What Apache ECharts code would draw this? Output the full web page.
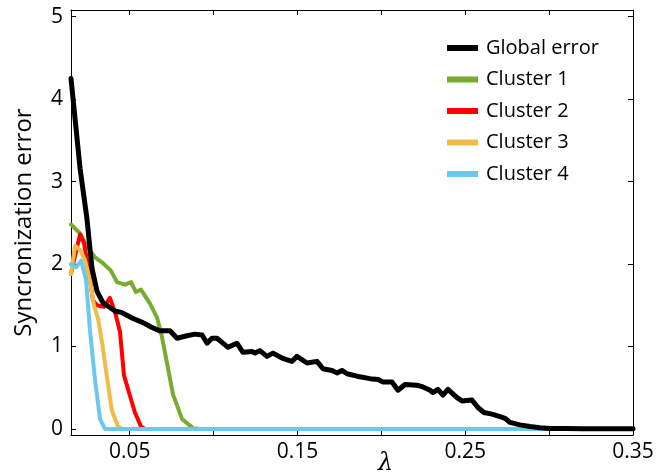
<!DOCTYPE html>
<html>
<head>
<meta charset="utf-8">
<script src="https://cdn.jsdelivr.net/npm/echarts@6/dist/echarts.min.js"></script>
<style>
html,body{margin:0;padding:0;background:#fff;}
#chart{width:670px;height:475px;}
</style>
</head>
<body>
<div id="chart"></div>
<script>
// ---- data ----
const seriesNames = ['Global error', 'Cluster 1', 'Cluster 2', 'Cluster 3', 'Cluster 4'];
const seriesColors = ['#000000', '#77AC30', '#FF0000', '#F0BC48', '#6DC8F0'];

const globalLambda = [0.0150,0.0204,0.0245,0.0275,0.0305,0.0341,0.0412,0.0454,0.0520,0.0579,0.0633,0.0680,0.0740,0.0782,0.0841,0.0889,0.0931,0.0961,0.0990,0.1020,0.1050,0.1086,0.1139,0.1175,0.1229,0.1247,0.1276,0.1318,0.1354,0.1408,0.1467,0.1497,0.1557,0.1616,0.1652,0.1706,0.1735,0.1765,0.1795,0.1855,0.1932,0.1980,0.2010,0.2063,0.2099,0.2141,0.2212,0.2248,0.2290,0.2308,0.2337,0.2367,0.2397,0.2451,0.2480,0.2540,0.2576,0.2611,0.2659,0.2707,0.2737,0.2766,0.2826,0.2886,0.2945,0.3005,0.3100,0.3200,0.3350,0.3500];
const globalError  = [4.25,3.16,2.55,1.95,1.67,1.53,1.43,1.41,1.34,1.29,1.23,1.19,1.19,1.10,1.13,1.15,1.14,1.04,1.10,1.10,1.05,0.99,1.04,0.93,0.94,0.92,0.95,0.88,0.92,0.86,0.82,0.88,0.80,0.82,0.73,0.71,0.68,0.71,0.67,0.64,0.61,0.60,0.57,0.57,0.47,0.54,0.53,0.51,0.47,0.44,0.48,0.41,0.48,0.38,0.34,0.35,0.26,0.20,0.18,0.15,0.13,0.08,0.05,0.03,0.015,0.007,0.005,0.004,0.004,0.004];

const c1Lambda = [0.0150,0.0204,0.0245,0.0293,0.0341,0.0388,0.0424,0.0472,0.0508,0.0537,0.0567,0.0621,0.0663,0.0692,0.0722,0.0758,0.0812,0.0877,0.0919,0.3500];
const c1Error  = [2.48,2.37,2.22,2.08,2.01,1.92,1.78,1.75,1.78,1.66,1.69,1.52,1.35,1.12,0.80,0.42,0.12,0.01,0,0];

const c2Lambda = [0.0150,0.0180,0.0204,0.0228,0.0257,0.0281,0.0305,0.0347,0.0382,0.0412,0.0442,0.0466,0.0502,0.0531,0.0567,0.0591,0.3500];
const c2Error  = [1.88,2.15,2.36,2.25,1.90,1.56,1.50,1.48,1.59,1.42,1.18,0.65,0.40,0.20,0.03,0,0];

const c3Lambda = [0.0150,0.0174,0.0204,0.0233,0.0263,0.0287,0.0311,0.0335,0.0365,0.0394,0.0430,0.0454,0.3500];
const c3Error  = [1.88,2.22,2.17,2.05,1.80,1.50,1.34,1.05,0.62,0.22,0.03,0,0];

const c4Lambda = [0.0150,0.0180,0.0210,0.0239,0.0263,0.0293,0.0323,0.0353,0.3500];
const c4Error  = [2.00,1.96,2.04,1.82,1.20,0.60,0.12,0,0];

const xTickValues  = [0.05,0.10,0.15,0.20,0.25,0.30,0.35];
const xLabelValues = [0.05,0.15,0.25,0.35];
const yTickValues  = [0,1,2,3,4,5];

const xLabel = 'λ';
const yLabel = 'Syncronization error';

// ---- build ----
const FONT = "'Open Sans', 'Noto Sans', sans-serif";
function pairs(xs, ys){ return xs.map((x,i)=>[x, ys[i]]); }
const allData = [
  pairs(globalLambda, globalError),
  pairs(c1Lambda, c1Error),
  pairs(c2Lambda, c2Error),
  pairs(c3Lambda, c3Error),
  pairs(c4Lambda, c4Error)
];

const chart = echarts.init(document.getElementById('chart'), null, {renderer:'canvas'});
const axisLineStyle = {lineStyle:{color:'#000', width:1}};
const xRange = {min:0.015, max:0.35};
const yRange = {min:-0.073, max:5.08};

chart.setOption({
  animation:false,
  backgroundColor:'#fff',
  grid:{left:71, right:37, top:10, bottom:40, containLabel:false},
  legend:{
    data:seriesNames,
    orient:'vertical',
    left:447, top:38,
    padding:0,
    icon:'rect',
    itemWidth:31, itemHeight:6,
    itemGap:11.5,
    textStyle:{fontFamily:FONT, fontSize:20, color:'#000', padding:[0,0,0,3]}
  },
  xAxis:[
    {type:'value', position:'bottom', ...xRange,
     axisLine:{show:true, onZero:false, ...axisLineStyle},
     axisTick:{show:true, inside:true, length:5, customValues:xTickValues, lineStyle:{color:'#000'}},
     axisLabel:{show:true, customValues:xLabelValues, margin:7, fontFamily:FONT, fontSize:21, color:'#000',
       formatter:v=>v.toFixed(2)},
     splitLine:{show:false}},
    {type:'value', position:'top', ...xRange,
     axisLine:{show:true, onZero:false, ...axisLineStyle},
     axisTick:{show:true, inside:true, length:5, customValues:xTickValues, lineStyle:{color:'#000'}},
     axisLabel:{show:false}, splitLine:{show:false}}
  ],
  yAxis:[
    {type:'value', position:'left', ...yRange,
     name:yLabel, nameLocation:'middle', nameGap:35, nameRotate:90,
     nameTextStyle:{fontFamily:FONT, fontSize:24, color:'#000'},
     axisLine:{show:true, onZero:false, ...axisLineStyle},
     axisTick:{show:true, inside:true, length:5, customValues:yTickValues, lineStyle:{color:'#000'}},
     axisLabel:{show:true, customValues:yTickValues, margin:8, fontFamily:FONT, fontSize:21, color:'#000'},
     splitLine:{show:false}},
    {type:'value', position:'right', ...yRange,
     axisLine:{show:true, onZero:false, ...axisLineStyle},
     axisTick:{show:true, inside:true, length:5, customValues:yTickValues, lineStyle:{color:'#000'}},
     axisLabel:{show:false}, splitLine:{show:false}}
  ],
  graphic:[
    {type:'text', left:378, top:452, style:{text:xLabel, font:"italic 24px 'DejaVu Serif', serif", fill:'#000'}}
  ],
  series: seriesNames.map((name,i)=>({
    name, type:'line', data:allData[i],
    xAxisIndex:0, yAxisIndex:0,
    showSymbol:false, symbol:'none',
    z: i===0 ? 5 : 2 + i*0.1,
    lineStyle:{color:seriesColors[i], width: i===0 ? 5 : 4, join:'round', cap:'round'},
    itemStyle:{color:seriesColors[i]},
    clip:true
  }))
});
</script>
</body>
</html>
